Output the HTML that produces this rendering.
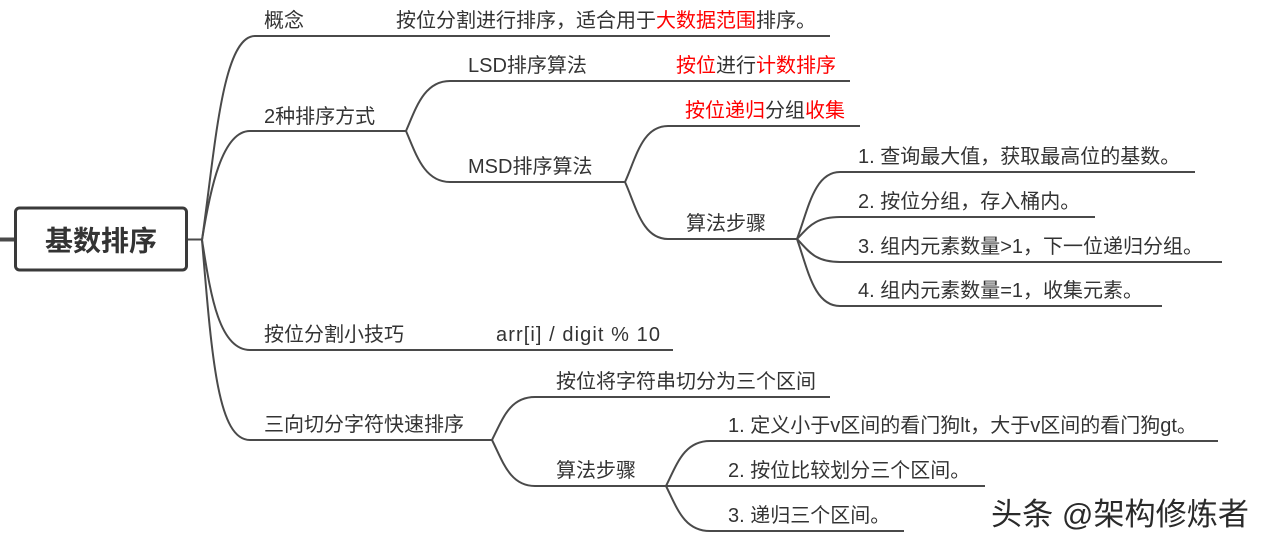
<!DOCTYPE html>
<html><head><meta charset="utf-8"><style>
html,body{margin:0;padding:0;background:#fff;}
svg{display:block;}
text{font-family:"Liberation Sans","Noto Sans CJK SC",sans-serif;font-size:20px;fill:#333;}
.r{fill:#ff0000;}
</style></head><body>
<svg width="1270" height="549" viewBox="0 0 1270 549" xmlns="http://www.w3.org/2000/svg">
<g fill="none" stroke="#4a4a4a" stroke-width="2">
<!-- root stub -->
<line x1="0" y1="239.5" x2="15" y2="239.5" stroke-width="4"/>
<line x1="187" y1="239.5" x2="202" y2="239.5"/>
<!-- root children -->
<path d="M202 240 C215 150,222 36,255 36 L830 36"/>
<path d="M202 240 C210 190,222 131,250 131 L406 131"/>
<path d="M202 240 C210 290,218 350,250 350 L673 350"/>
<path d="M202 240 C212 360,218 440,250 440 L492 440"/>
<!-- 2种 children -->
<path d="M406 131 C416 108,424 81,450 81 L850 81"/>
<path d="M406 131 C416 154,424 182,450 182 L625 182"/>
<!-- MSD children -->
<path d="M625 182 C636 158,642 126,668 126 L860 126"/>
<path d="M625 182 C636 206,642 239,668 239 L797 239"/>
<!-- 算法步骤 children -->
<path d="M797 239 C808 210,814 172,840 172 L1195 172"/>
<path d="M797 239 C808 228,814 217,840 217 L1095 217"/>
<path d="M797 239 C808 250,814 262,840 262 L1222 262"/>
<path d="M797 239 C808 270,814 306,840 306 L1162 306"/>
<!-- 三向 children -->
<path d="M492 440 C503 418,510 397,535 397 L830 397"/>
<path d="M492 440 C503 462,510 486,535 486 L666 486"/>
<!-- 算法步骤2 children -->
<path d="M666 486 C677 464,684 441,710 441 L1218 441"/>
<path d="M666 486 L985 486"/>
<path d="M666 486 C677 508,684 531,710 531 L904 531"/>
</g>
<!-- root box -->
<rect x="15.5" y="208" width="171" height="62" rx="4" ry="4" fill="#fff" stroke="#3a3a3a" stroke-width="3"/>
<text x="101" y="250.5" text-anchor="middle" style="font-size:28px;font-weight:bold;fill:#333;">基数排序</text>

<text x="264" y="27">概念</text>
<text x="396" y="27">按位分割进行排序，适合用于<tspan class="r">大数据范围</tspan>排序。</text>

<text x="264" y="123">2种排序方式</text>
<text x="468" y="72">LSD排序算法</text>
<text x="676" y="72"><tspan class="r">按位</tspan>进行<tspan class="r">计数排序</tspan></text>
<text x="468" y="173">MSD排序算法</text>
<text x="685" y="117"><tspan class="r">按位递归</tspan>分组<tspan class="r">收集</tspan></text>
<text x="686" y="230">算法步骤</text>
<text x="858" y="163">1. 查询最大值，获取最高位的基数。</text>
<text x="858" y="208">2. 按位分组，存入桶内。</text>
<text x="858" y="253">3. 组内元素数量&gt;1，下一位递归分组。</text>
<text x="858" y="297">4. 组内元素数量=1，收集元素。</text>

<text x="264" y="341">按位分割小技巧</text>
<text x="496" y="341" textLength="164" lengthAdjust="spacing">arr[i] / digit % 10</text>

<text x="264" y="431">三向切分字符快速排序</text>
<text x="556" y="388">按位将字符串切分为三个区间</text>
<text x="556" y="477">算法步骤</text>
<text x="728" y="432">1. 定义小于v区间的看门狗lt，大于v区间的看门狗gt。</text>
<text x="728" y="477">2. 按位比较划分三个区间。</text>
<text x="728" y="522">3. 递归三个区间。</text>

<text x="991" y="525" textLength="258" lengthAdjust="spacingAndGlyphs" style="font-size:31px;fill:#2a2a2a;stroke:#ffffff;stroke-width:0.6px;paint-order:stroke;">头条 @架构修炼者</text>
</svg>
</body></html>
